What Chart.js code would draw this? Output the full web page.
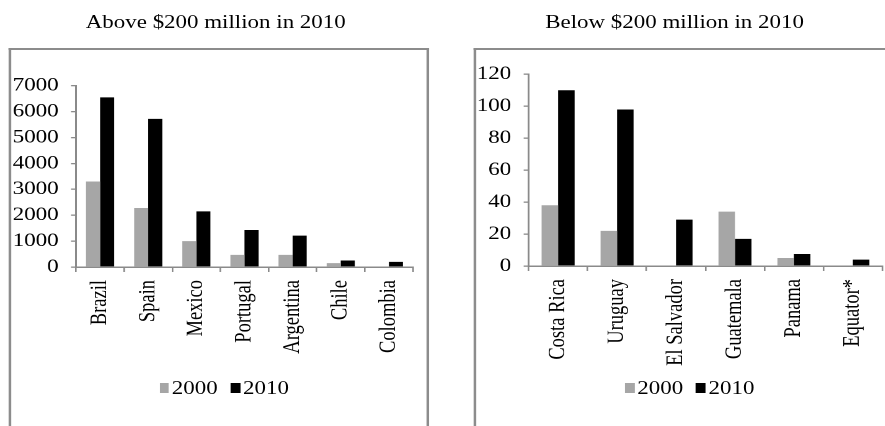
<!DOCTYPE html>
<html>
<head>
<meta charset="utf-8">
<script src="https://cdn.jsdelivr.net/npm/chart.js@4/dist/chart.umd.min.js"></script>
<style>
  html, body { margin: 0; padding: 0; background: #fff; width: 885px; height: 426px; overflow: hidden; }
  /* the whole page is laid out narrow and widened by the transform */
  #page { position: absolute; left: 0; top: 0; width: 730px; height: 426px;
          transform: scaleX(1.24); transform-origin: 0 0;
          font-family: "Liberation Serif", "Times New Roman", serif; color: #000; }
  .title { position: absolute; top: 11px; width: 400px; text-align: center; font-size: 18.5px; line-height: 22px; white-space: nowrap; }
  .panel { position: absolute; top: 48px; height: 420px; border: 2px solid #8c8c8c; border-bottom: none; }
  canvas { position: absolute; }
  .legend { position: absolute; top: 378px; height: 20px; display: flex; align-items: center; font-size: 18.5px; line-height: 20px; white-space: nowrap; }
  .legend .box { display: inline-block; width: 7.8px; height: 10px; margin-right: 2.2px; }
  .legend .item { display: flex; align-items: center; margin-right: 10.5px; }
</style>
</head>
<body>
<div id="page">
  <div class="title" style="left:-26px">Above $200 million in 2010</div>
  <div class="title" style="left:344px">Below $200 million in 2010</div>
  <div class="panel" style="left:7.3px; width:335px"></div>
  <div class="panel" style="left:381.5px; width:400px"></div>
  <canvas id="leftChart" style="left:9px; top:52px; width:335px; height:320px"></canvas>
  <canvas id="rightChart" style="left:383.5px; top:52px; width:334px; height:320px"></canvas>
  <div class="legend" id="leftLegend" style="left:128.5px"></div>
  <div class="legend" id="rightLegend" style="left:504px"></div>
</div>
<script>
const years = ['2000', '2010'];
const yearColors = ['#a6a6a6', '#000000'];

const bigCountries = ['Brazil', 'Spain', 'Mexico', 'Portugal', 'Argentina', 'Chile', 'Colombia'];
const big2000 = [3300, 2280, 1000, 470, 470, 150, 0];
const big2010 = [6550, 5720, 2150, 1430, 1210, 250, 200];
const bigMax = 7000, bigStep = 1000;

const smallCountries = ['Costa Rica', 'Uruguay', 'El Salvador', 'Guatemala', 'Panama', 'Equator*'];
const small2000 = [38, 22, 0, 34, 5, 0];
const small2010 = [110, 98, 29, 17, 7.5, 4];
const smallMax = 120, smallStep = 20;

const axisGray = '#8a8a8a';
Chart.defaults.font.family = '"Liberation Serif", "Times New Roman", serif';
Chart.defaults.color = '#000';

function makeChart(id, labels, s2000, s2010, max, step, geo) {
  const canvas = document.getElementById(id);
  canvas.width = parseFloat(canvas.style.width);
  canvas.height = parseFloat(canvas.style.height);
  const series = [s2000, s2010];
  return new Chart(canvas, {
    type: 'bar',
    data: {
      labels: labels,
      datasets: years.map((y, i) => ({
        label: y,
        data: series[i],
        backgroundColor: yearColors[i],
        borderWidth: 0,
        barPercentage: 1,
        categoryPercentage: geo.catPct
      }))
    },
    options: {
      responsive: false,
      animation: false,
      devicePixelRatio: 2,
      layout: { padding: { top: geo.padTop, right: geo.padRight, left: 0, bottom: 0 } },
      plugins: { legend: { display: false }, tooltip: { enabled: false } },
      scales: {
        x: {
          grid: { drawOnChartArea: false, color: axisGray, tickLength: 5, lineWidth: 1.3 },
          border: { color: axisGray, width: 1.5 },
          ticks: { font: { size: 18.5 }, maxRotation: 90, minRotation: 90, autoSkip: false, padding: 8 },
          afterFit(scale) { scale.height = geo.xHeight; }
        },
        y: {
          min: 0, max: max,
          grid: { drawOnChartArea: false, color: axisGray, tickLength: 4, lineWidth: 1.3 },
          border: { color: axisGray, width: 1.5 },
          ticks: { stepSize: step, font: { size: 18.5 }, padding: 10, callback: v => String(v) },
          afterFit(scale) { scale.width = geo.yWidth; }
        }
      }
    }
  });
}

function makeLegend(id) {
  const el = document.getElementById(id);
  years.forEach((y, i) => {
    const item = document.createElement('span');
    item.className = 'item';
    const box = document.createElement('span');
    box.className = 'box';
    box.style.background = yearColors[i];
    item.appendChild(box);
    item.appendChild(document.createTextNode(y));
    el.appendChild(item);
  });
}

makeChart('leftChart', bigCountries, big2000, big2010, bigMax, bigStep,
  { yWidth: 52.3, padTop: 33.7, padRight: 2.9, xHeight: 105, catPct: 0.585 });
makeChart('rightChart', smallCountries, small2000, small2010, smallMax, smallStep,
  { yWidth: 42.3, padTop: 22.3, padRight: 0, xHeight: 106, catPct: 0.56 });
makeLegend('leftLegend');
makeLegend('rightLegend');
</script>
</body>
</html>
